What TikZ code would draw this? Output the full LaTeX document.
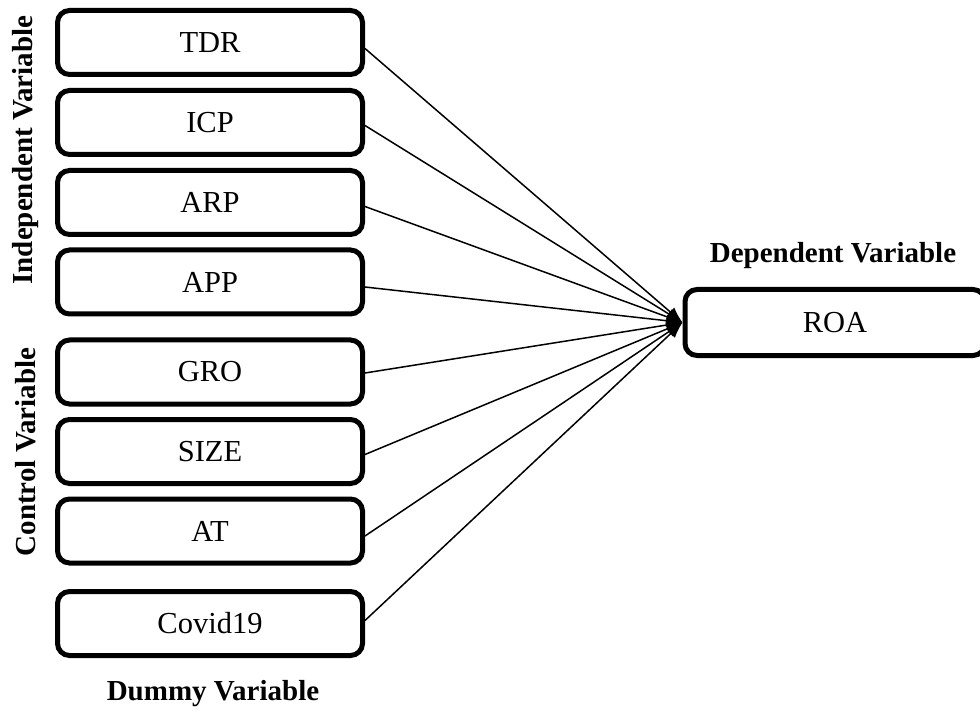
\documentclass[tikz,border=0pt]{standalone}
\usepackage{fontspec}
\setmainfont{Liberation Serif}
\usetikzlibrary{arrows.meta}
\tikzset{
  varbox/.style={draw, line width=5pt, rounded corners=12pt, minimum width=305pt, minimum height=64pt, inner sep=0pt, font=\fontsize{30.5}{36}\selectfont},
  grouplabel/.style={font=\fontsize{29}{34}\selectfont\bfseries, inner sep=0pt},
  link/.style={line width=1.5pt, -{Latex[length=16pt,width=12pt]}}
}
\begin{document}
\begin{tikzpicture}[x=1pt,y=-1pt]
\clip (0,0) rectangle (980,711);
\fill[white] (0,0) rectangle (980,711);
\node[varbox] (tdr) at (210,42.5) {TDR};
\node[varbox] (icp) at (210,122.5) {ICP};
\node[varbox] (arp) at (210,202.5) {ARP};
\node[varbox] (app) at (210,282) {APP};
\node[varbox] (gro) at (210,372) {GRO};
\node[varbox] (size) at (210,451.5) {SIZE};
\node[varbox] (at) at (210,531) {AT};
\node[varbox] (covid) at (210,623.5) {Covid19};
\node[varbox, minimum width=300pt, minimum height=66pt] (roa) at (835,322.5) {ROA};
\node[grouplabel] (dep) at (833,256) {Dependent Variable};
\node[grouplabel, rotate=90] (indep) at (26,150) {Independent Variable};
\node[grouplabel, rotate=90] (ctrl) at (26,452) {Control Variable};
\node[grouplabel] (dummy) at (213,694) {Dummy Variable};
\foreach \n/\dy in {tdr/6,icp/3,arp/4,app/5,gro/1,size/3,at/5,covid/-3}{
  \draw[link] ([yshift=-\dy pt]\n.east) -- (roa.west);
}
\end{tikzpicture}
\end{document}
